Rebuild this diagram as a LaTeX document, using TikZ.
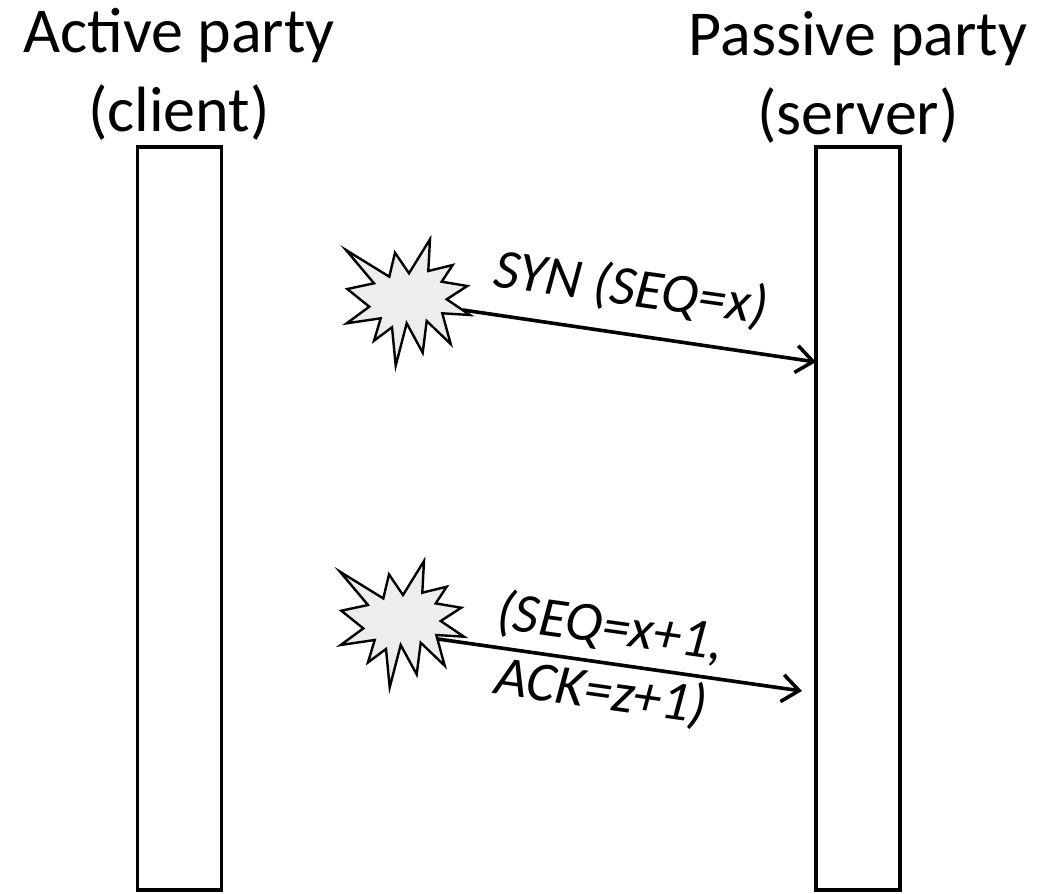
\documentclass[tikz,border=0pt]{standalone}
\usepackage{fontspec}
\setmainfont{Carlito}
\usetikzlibrary{arrows.meta}
\tikzset{
  x=1pt,y=-1pt,
  bar/.style={draw=black,line width=3.8pt,fill=white,minimum width=84pt,minimum height=743pt,inner sep=0pt,outer sep=0pt},
  title/.style={font=\fontsize{64}{79}\selectfont,align=center,inner sep=0pt},
  msg/.style={font=\fontsize{56}{65}\selectfont\itshape,align=center,inner sep=0pt,rotate=-8},
  burst/.style={draw=black,line width=2.4pt,fill=black!7,line join=miter,miter limit=10},
  flow/.style={draw=black,line width=3.6pt,-{Straight Barb[length=17pt,width=27pt,line width=3.6pt]}}
}
\newcommand{\burstshape}{(346,250) -- (389.3,276.7) -- (395,252.7) -- (409,273.3) -- (430,239.3) -- (428.3,271) -- (452.7,265) -- (441.7,281.7) -- (467.3,286) -- (446.7,299.3) -- (470,315) -- (442.3,313.3) -- (450.7,344) -- (426.7,321) -- (422.7,352.7) -- (406.7,323.3) -- (395.7,365.7) -- (392,327.3) -- (374,340.7) -- (380.7,318.3) -- (346.7,323.3) -- (369.3,306.7) -- (347.3,289) -- (374,283.3) -- cycle}
\begin{document}
\begin{tikzpicture}
\useasboundingbox (0,0) rectangle (1053,894);
\node[bar] (client) at (179.5,518.5) {};
\node[bar] (server) at (858,518.5) {};
\node[title] (active) at (179,74.5) {Active party\\(client)};
\node[title] (passive) at (858,77.5) {Passive party\\(server)};
\draw[burst] \burstshape;
\draw[burst,shift={(-6,321.7)}] \burstshape;
\coordinate (from1) at (463,310);
\coordinate (to1) at (server.west |- 0,362);
\coordinate (from2) at (438,639);
\coordinate (to2) at (802,691);
\draw[flow] (from1) -- (to1);
\draw[flow] (from2) -- (to2);
\node[msg] (syn) at (631,289) {SYN (SEQ=x)};
\node[msg] (seq) at (606,660) {(SEQ=x+1,\\ACK=z+1)};
\end{tikzpicture}
\end{document}
